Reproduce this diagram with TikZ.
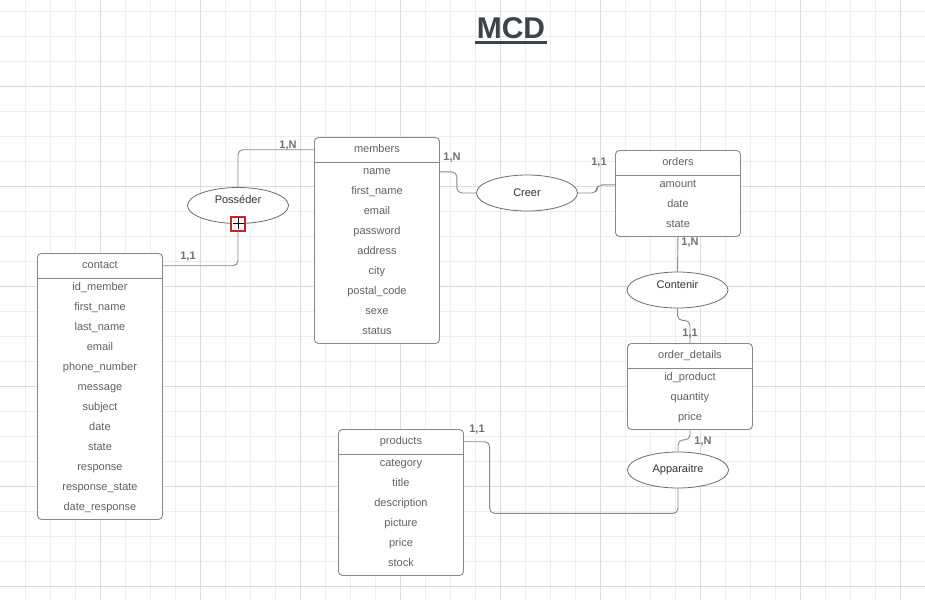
\documentclass[tikz,border=0pt]{standalone}
\usepackage{fontspec}
\setmainfont{Liberation Sans}
\usepackage{tikz}
\usetikzlibrary{positioning,calc,shapes.geometric}
\definecolor{cText}{HTML}{5E6168}
\definecolor{cLine}{HTML}{85888E}
\definecolor{cRel}{HTML}{6A6D72}
\definecolor{cCard}{HTML}{6E7178}
\definecolor{cTitle}{HTML}{3C434D}
\definecolor{cMark}{HTML}{D0202A}
\definecolor{gridmin}{HTML}{EEEEEE}
\definecolor{gridmaj}{HTML}{DCDCDC}
\pgfdeclarelayer{gridlayer}
\pgfdeclarelayer{linklayer}
\pgfsetlayers{gridlayer,linklayer,main}
\tikzset{
  entbox/.style={draw=cLine,line width=0.9pt,fill=white,rounded corners=4pt,anchor=north west,minimum width=125pt,inner sep=0pt},
  enttitle/.style={anchor=north,minimum width=125pt,minimum height=25pt,inner sep=0pt,text height=8pt,text depth=2.5pt,text=cText,font=\fontsize{11}{13}\selectfont},
  entrow/.style={inner sep=0pt,text height=8pt,text depth=2.5pt,text=cText,font=\fontsize{11}{13}\selectfont},
  relation/.style={ellipse,draw=cRel,line width=0.8pt,fill=white,minimum width=101pt,minimum height=36pt,inner sep=0pt,text=black!80,font=\fontsize{11}{13}\selectfont},
  link/.style={draw=cLine,line width=0.9pt,rounded corners=5pt},
  card/.style={text=cCard,font=\fontsize{11}{13}\selectfont\bfseries,inner sep=0pt}
}
% entity: name, top left corner, title, attributes
\newcommand{\entity}[4]{%
  \foreach \a [count=\i] in {#4} {\xdef\nrows{\i}}
  \node[entbox,minimum height={26+20*\nrows}] (#1) at (#2) {};
  \node[enttitle] (#1-t) at (#1.north) {#3};
  \draw[cLine,line width=0.9pt] (#1-t.south west) -- (#1-t.south east);
  \foreach \a [count=\i] in {#4}
    \node[entrow] (#1-\i) at ($(#1-t.south)+(0,{9.5+20*(\i-1)})$) {\a};
}

\begin{document}
\begin{tikzpicture}[x=1pt,y=-1pt]
  \useasboundingbox (0,0) rectangle (925,600);
  % grid
  \begin{pgfonlayer}{gridlayer}
    \fill[white] (0,0) rectangle (925,600);
    \foreach \x in {25,50,...,900} \draw[gridmin,line width=0.8pt] (\x,0) -- (\x,600);
    \foreach \y in {11,36,...,586} \draw[gridmin,line width=0.8pt] (0,\y) -- (925,\y);
    \foreach \x in {100,200,...,900} \draw[gridmaj,line width=0.8pt] (\x,0) -- (\x,600);
    \foreach \y in {86,186,...,586} \draw[gridmaj,line width=0.8pt] (0,\y) -- (925,\y);
  \end{pgfonlayer}
  % title
  \node[font=\fontsize{30}{36}\selectfont\bfseries,text=cTitle,inner sep=0pt] (title) at (511,28) {MCD};
  \draw[cTitle,line width=3pt] ($(title.south west)+(-2,3.5)$) -- ($(title.south east)+(2,3.5)$);
  % entities
  \entity{contact}{37,253}{contact}{id\_member,first\_name,last\_name,email,phone\_number,message,subject,date,state,response,response\_state,date\_response}
  \entity{members}{314,137}{members}{name,first\_name,email,password,address,city,postal\_code,sexe,status}
  \entity{orders}{615,150}{orders}{amount,date,state}
  \entity{details}{627,343}{order\_details}{id\_product,quantity,price}
  \entity{products}{338,429}{products}{category,title,description,picture,price,stock}
  % relations
  \node[relation] (poss) at (238,205.5) {\raisebox{12pt}{Posséder}};
  \node[relation] (creer) at (527,193) {Creer};
  \node[relation] (contenir) at (677.5,290) {\raisebox{10pt}{Contenir}};
  \node[relation] (appar) at (678,470) {Apparaitre};
  \node[draw=cMark,line width=1.2pt,fill=white,minimum size=14pt,inner sep=0pt] (mark) at (poss.south) {};
  \draw[black,line width=1pt] ($(mark.center)+(-5.5,0)$) -- ++(11,0) ($(mark.center)+(0,-5.5)$) -- ++(0,11);
  % links
  \begin{pgfonlayer}{linklayer}
    \draw[link] (contact-t.east) -| (poss.south);
    \draw[link] (poss.north) |- (members-t.west);
    \draw[link] (members-1 -| members.east) -- ++(17,0) |- (creer.west);
    \draw[link] (creer.east) -- ++(19,0) |- (orders-1 -| orders.west);
    \draw[link] (orders.south) -- (contenir.north);
    \draw[link] (contenir.south) -- ++(0,12) -| (details.north);
    \draw[link] (details.south) -- ++(0,10) -| (appar.north);
    \draw[link] (products-t.east) -- ++(26,0) |- ($(appar.south)+(0,25)$) -- (appar.south);
  \end{pgfonlayer}
  % cardinalities
  \node[card] (k1) at (288,146) {1,N};
  \node[card] (k2) at (188,257) {1,1};
  \node[card] (k3) at (452,158) {1,N};
  \node[card] (k4) at (599,163) {1,1};
  \node[card] (k5) at (690,243) {1,N};
  \node[card] (k6) at (690,334) {1,1};
  \node[card] (k7) at (703,442) {1,N};
  \node[card] (k8) at (477,430) {1,1};
\end{tikzpicture}
\end{document}
